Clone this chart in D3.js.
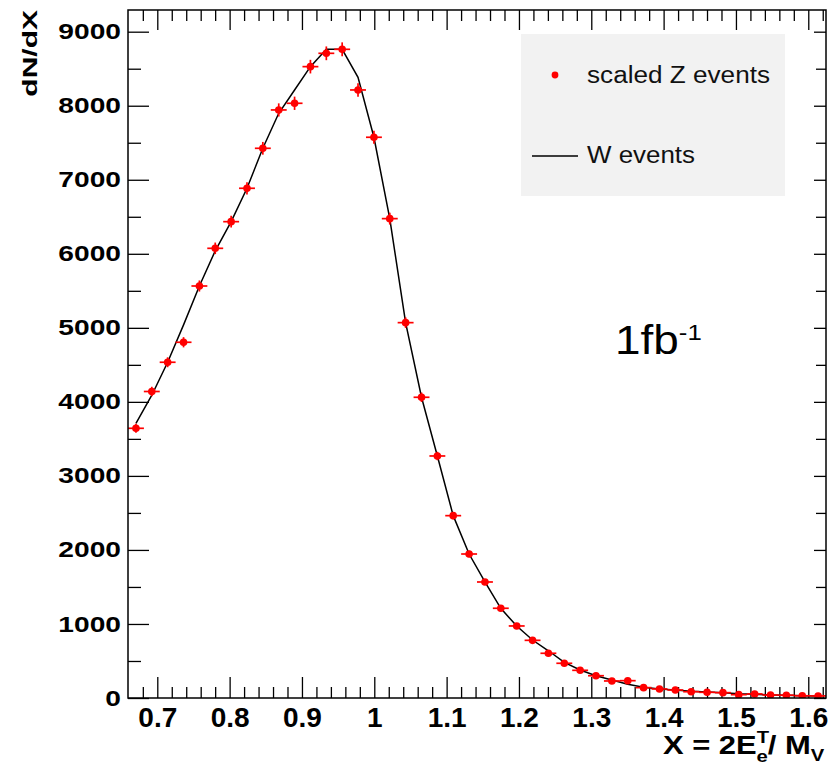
<!DOCTYPE html>
<html>
<head>
<meta charset="utf-8">
<script src="https://cdn.jsdelivr.net/npm/d3@7"></script>
<style>
body { margin: 0; background: #fff; }
svg { display: block; }
text { font-family: "Liberation Sans", Arial, Helvetica, sans-serif; }
</style>
</head>
<body>
<div id="chart"></div>
<script>
// bin centres of the histogram (44 bins)
const binCenters = [
    0.6705, 0.6924, 0.7143, 0.7363, 0.7582, 0.7801, 0.8021, 0.8240, 0.8459, 0.8679, 0.8898,
    0.9117, 0.9337, 0.9556, 0.9775, 0.9995, 1.0214, 1.0433, 1.0653, 1.0872, 1.1091, 1.1311,
    1.1530, 1.1749, 1.1969, 1.2188, 1.2407, 1.2627, 1.2846, 1.3065, 1.3285, 1.3504, 1.3723,
    1.3943, 1.4162, 1.4381, 1.4601, 1.4820, 1.5039, 1.5259, 1.5478, 1.5697, 1.5917, 1.6136
];
const binHalfWidth = 0.011;

// scaled Z events (points) and their vertical errors
const zValues = [
    3643, 4140, 4535, 4805, 5565, 6074, 6434, 6885, 7425, 7943, 8033,
    8528, 8708, 8762, 8213, 7574, 6475, 5070, 4062, 3269, 2463, 1945,
    1567, 1212, 973, 779, 604, 469, 374, 301, 230, 234, 140,
    122, 108, 85, 77, 72, 45, 55, 40, 38, 30, 28
];
const zErrors = [
    60, 64, 67, 69, 75, 78, 80, 83, 86, 89, 90,
    92, 93, 94, 91, 87, 80, 71, 64, 57, 50, 44,
    40, 35, 31, 28, 25, 22, 19, 17, 15, 15, 12,
    11, 10, 9, 9, 8, 7, 7, 6, 6, 5, 5
];

// W events (line)
const wValues = [
    3710, 4090, 4535, 5040, 5565, 6040, 6434, 6885, 7425, 7898, 8213,
    8528, 8762, 8762, 8384, 7574, 6475, 5070, 4062, 3269, 2463, 1945,
    1567, 1212, 973, 783, 638, 482, 378, 301, 243, 185, 144,
    122, 108, 90, 81, 72, 58, 50, 41, 36, 31, 27
];

const xTicks = [0.7, 0.8, 0.9, 1.0, 1.1, 1.2, 1.3, 1.4, 1.5, 1.6];
const xTickLabels = ["0.7", "0.8", "0.9", "1", "1.1", "1.2", "1.3", "1.4", "1.5", "1.6"];
const yTicks = [0, 1000, 2000, 3000, 4000, 5000, 6000, 7000, 8000, 9000];
const yTickLabels = ["0", "1000", "2000", "3000", "4000", "5000", "6000", "7000", "8000", "9000"];
const legendLabels = ["scaled Z events", "W events"];

const width = 832, height = 766;
const margin = { left: 128, right: 6, top: 10, bottom: 68 };

const svg = d3.select("#chart").append("svg")
    .attr("width", width)
    .attr("height", height);

const x = d3.scaleLinear()
    .domain([0.6595, 1.6245])
    .range([margin.left, width - margin.right]);

const y = d3.scaleLinear()
    .domain([0, 9293])
    .range([height - margin.bottom, margin.top]);

const x0 = margin.left, x1 = width - margin.right;
const y0 = height - margin.bottom, y1 = margin.top;

// minor tick positions
const xMinor = d3.range(0, 50).map(i => Math.round((0.66 + i * 0.02) * 100) / 100)
    .filter(v => v > 0.665 && v < 1.625 && !xTicks.some(t => Math.abs(t - v) < 1e-6));
const yMinor = d3.range(500, 9293, 1000);

svg.append("defs").append("clipPath").attr("id", "plot")
    .append("rect")
    .attr("x", x0).attr("y", y1)
    .attr("width", x1 - x0).attr("height", y0 - y1);

function styleAxis(g) {
    g.select(".domain").remove();
    g.selectAll(".tick line").attr("stroke", "#000").attr("stroke-width", 1.3);
}

// bottom axis
svg.append("g")
    .attr("transform", `translate(0,${y0})`)
    .call(d3.axisBottom(x).tickValues(xTicks).tickSizeInner(-21).tickSizeOuter(0).tickPadding(9)
        .tickFormat((d, i) => xTickLabels[i]))
    .call(styleAxis)
    .call(g => g.selectAll("text")
        .attr("font-size", 28)
        .attr("font-weight", "bold")
        .attr("fill", "#000"));

svg.append("g")
    .attr("transform", `translate(0,${y0})`)
    .call(d3.axisBottom(x).tickValues(xMinor).tickSize(-11).tickFormat(""))
    .call(styleAxis);

// top axis
svg.append("g")
    .attr("transform", `translate(0,${y1})`)
    .call(d3.axisTop(x).tickValues(xTicks).tickSize(-20).tickFormat(""))
    .call(styleAxis);

svg.append("g")
    .attr("transform", `translate(0,${y1})`)
    .call(d3.axisTop(x).tickValues(xMinor).tickSize(-11).tickFormat(""))
    .call(styleAxis);

// left axis
svg.append("g")
    .attr("transform", `translate(${x0},0)`)
    .call(d3.axisLeft(y).tickValues(yTicks).tickSizeInner(-21).tickSizeOuter(0).tickPadding(5.5)
        .tickFormat((d, i) => yTickLabels[i]))
    .call(styleAxis)
    .call(g => g.selectAll("text")
        .attr("font-size", 22)
        .attr("font-weight", "bold")
        .attr("fill", "#000")
        .attr("transform", "scale(1.28,1)"));

svg.append("g")
    .attr("transform", `translate(${x0},0)`)
    .call(d3.axisLeft(y).tickValues(yMinor).tickSize(-13).tickFormat(""))
    .call(styleAxis);

// right axis
svg.append("g")
    .attr("transform", `translate(${x1},0)`)
    .call(d3.axisRight(y).tickValues(yTicks).tickSize(-12).tickFormat(""))
    .call(styleAxis);

svg.append("g")
    .attr("transform", `translate(${x1},0)`)
    .call(d3.axisRight(y).tickValues(yMinor).tickSize(-10).tickFormat(""))
    .call(styleAxis);

// marks
const plot = svg.append("g").attr("clip-path", "url(#plot)");

const wLine = d3.line()
    .x((d, i) => x(binCenters[i]))
    .y(d => y(d));

plot.append("path")
    .datum(wValues)
    .attr("d", wLine)
    .attr("fill", "none")
    .attr("stroke", "#000")
    .attr("stroke-width", 1.5);

const zData = binCenters.map((c, i) => ({ c, v: zValues[i], e: zErrors[i] }));

const pts = plot.selectAll("g.pt")
    .data(zData)
    .join("g")
    .attr("class", "pt");

pts.append("line")
    .attr("x1", d => x(d.c - binHalfWidth))
    .attr("x2", d => x(d.c + binHalfWidth))
    .attr("y1", d => y(d.v))
    .attr("y2", d => y(d.v))
    .attr("stroke", "#ff0000")
    .attr("stroke-width", 1.7);

pts.append("line")
    .attr("x1", d => x(d.c))
    .attr("x2", d => x(d.c))
    .attr("y1", d => y(d.v - d.e))
    .attr("y2", d => y(d.v + d.e))
    .attr("stroke", "#ff0000")
    .attr("stroke-width", 1.7);

pts.append("circle")
    .attr("cx", d => x(d.c))
    .attr("cy", d => y(d.v))
    .attr("r", 3.8)
    .attr("fill", "#ff0000");

// frame
svg.append("rect")
    .attr("x", x0).attr("y", y1)
    .attr("width", x1 - x0).attr("height", y0 - y1)
    .attr("fill", "none")
    .attr("stroke", "#000")
    .attr("stroke-width", 1.5);

// legend
const legend = svg.append("g");
legend.append("rect")
    .attr("x", 521).attr("y", 34)
    .attr("width", 264).attr("height", 162)
    .attr("fill", "#f2f2f2");

legend.append("circle")
    .attr("cx", 555).attr("cy", 75).attr("r", 3.4)
    .attr("fill", "#ff0000");

legend.append("line")
    .attr("x1", 532).attr("x2", 578)
    .attr("y1", 156).attr("y2", 156)
    .attr("stroke", "#000").attr("stroke-width", 1.3);

legend.selectAll("text")
    .data(legendLabels)
    .join("text")
    .attr("x", 587)
    .attr("y", (d, i) => i === 0 ? 82.5 : 162.5)
    .attr("font-size", 23)
    .attr("fill", "#111")
    .attr("textLength", (d, i) => i === 0 ? 183 : 108)
    .attr("lengthAdjust", "spacingAndGlyphs")
    .text(d => d);

// luminosity label
const lumi = svg.append("g")
    .attr("transform", "translate(615,354) scale(1.12,1)")
    .append("text")
    .attr("font-family", "DejaVu Sans, Verdana, sans-serif")
    .attr("font-size", 41)
    .attr("fill", "#000");
lumi.append("tspan").text("1fb");
lumi.append("tspan").attr("font-size", 23).attr("dy", -14).text("-1");

// y axis title
svg.append("g")
    .attr("transform", "translate(36.5,10) rotate(-90) scale(1.5,1)")
    .append("text")
    .attr("text-anchor", "end")
    .attr("font-size", 20)
    .attr("font-weight", "bold")
    .text("dN/dX");

// x axis title
const xt = svg.append("g")
    .attr("transform", "translate(663,754) scale(1.19,1)")
    .append("text")
    .attr("font-size", 26)
    .attr("font-weight", "bold");
xt.append("tspan").text("X = 2E");
xt.append("tspan").attr("font-size", 17).attr("dy", -11).text("T");
xt.append("tspan").attr("font-size", 17).attr("dx", -10.5).attr("dy", 19).text("e");
xt.append("tspan").attr("dy", -8).text("/ M");
xt.append("tspan").attr("font-size", 17).attr("dy", 7).text("V");
</script>
</body>
</html>
